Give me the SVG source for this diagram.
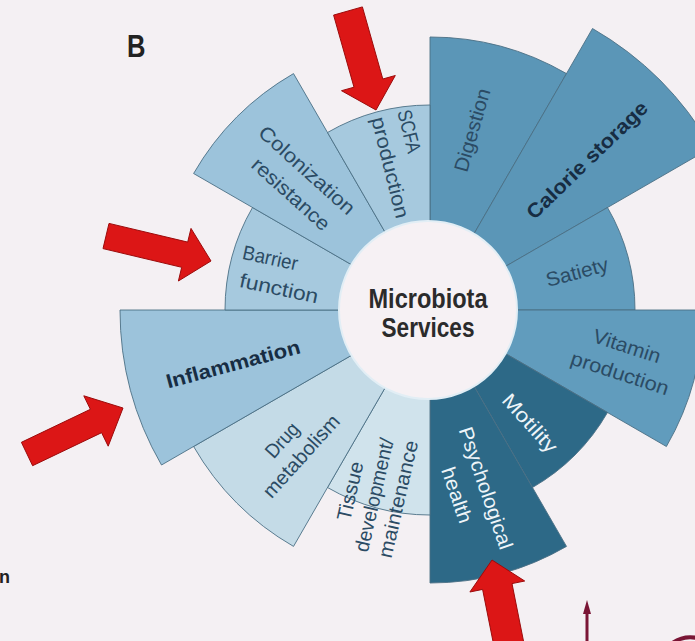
<svg xmlns="http://www.w3.org/2000/svg" width="695" height="641" viewBox="0 0 695 641">
<style>
.w{stroke:#4b6f84;stroke-width:0.9;stroke-linejoin:round}
.lb{fill:#a6c9de}.lb2{fill:#9cc3db}.lt{fill:#c4dbe7}.lt2{fill:#d0e3ec}
.md{fill:#5b96b7}.md2{fill:#619cbd}.dk{fill:#2d6987}
.t{font-family:"Liberation Sans",Arial,sans-serif;font-size:20px;fill:#2b4b64;text-anchor:middle;dominant-baseline:central}
.s{text-anchor:start}
.b{font-weight:bold;fill:#172d43}
.wt{fill:#eef5f9}
.c{font-family:"Liberation Sans",Arial,sans-serif;font-size:27px;font-weight:bold;fill:#2b2b2b;text-anchor:middle}
.arrow{fill:#dc1616;stroke:#9c0b0b;stroke-width:1;stroke-linejoin:round}
</style>
<rect width="695" height="641" fill="#f4f0f3"/>
<text x="127" y="57" transform="translate(127,57) scale(0.8,1) translate(-127,-57)" font-family="Liberation Sans,Arial,sans-serif" font-weight="bold" font-size="32" fill="#222">B</text>
<text x="10" y="583" text-anchor="end" font-family="Liberation Sans,Arial,sans-serif" font-weight="bold" font-size="18" fill="#222">n</text>

<g id="digestion"><path class="w md" d="M430,310 L430,37 A273,273 0 0 1 566.5,73.6 Z"/>
<text class="t" transform="translate(472,130) rotate(-74)" font-size="19" textLength="86" lengthAdjust="spacingAndGlyphs">Digestion</text></g>
<g id="calorie-storage"><path class="w md" d="M430,310 L592.5,28.5 A325,325 0 0 1 711.5,147.5 Z"/>
<text class="t b" transform="translate(587,160) rotate(-44)" font-size="19" textLength="160" lengthAdjust="spacingAndGlyphs">Calorie storage</text></g>
<g id="satiety"><path class="w md2" d="M430,310 L607.5,207.5 A205,205 0 0 1 635,310 Z"/>
<text class="t" transform="translate(577,272) rotate(-15)" textLength="64" lengthAdjust="spacingAndGlyphs">Satiety</text></g>
<g id="vitamin-production"><path class="w md2" d="M430,310 L703,310 A273,273 0 0 1 666.4,446.5 Z"/>
<text class="t" transform="translate(627,346) rotate(18)" textLength="70" lengthAdjust="spacingAndGlyphs">Vitamin</text>
<text class="t" transform="translate(620,373) rotate(18)" textLength="102" lengthAdjust="spacingAndGlyphs">production</text></g>
<g id="motility"><path class="w dk" d="M430,310 L607.5,412.5 A205,205 0 0 1 532.5,487.5 Z"/>
<text class="t wt" transform="translate(530,423) rotate(48)" textLength="72" lengthAdjust="spacingAndGlyphs">Motility</text></g>
<g id="psychological-health"><path class="w dk" d="M430,310 L566.5,546.4 A273,273 0 0 1 430,583 Z"/>
<text class="t wt" transform="translate(486,488) rotate(71)" textLength="128" lengthAdjust="spacingAndGlyphs">Psychological</text>
<text class="t wt" transform="translate(457,495) rotate(71)" textLength="58" lengthAdjust="spacingAndGlyphs">health</text></g>
<g id="tissue-development"><path class="w lt2" d="M430,310 L430,515 A205,205 0 0 1 327.5,487.5 Z"/>
<text class="t" transform="translate(350,491) rotate(-77)" textLength="60" lengthAdjust="spacingAndGlyphs">Tissue</text>
<text class="t" transform="translate(374,495) rotate(-77)" textLength="116" lengthAdjust="spacingAndGlyphs">development/</text>
<text class="t" transform="translate(398,499) rotate(-77)" textLength="120" lengthAdjust="spacingAndGlyphs">maintenance</text></g>
<g id="drug-metabolism"><path class="w lt" d="M430,310 L293.5,546.4 A273,273 0 0 1 193.6,446.5 Z"/>
<text class="t" transform="translate(282,440) rotate(-48)" textLength="40" lengthAdjust="spacingAndGlyphs">Drug</text>
<text class="t" transform="translate(301,456) rotate(-48)" textLength="104" lengthAdjust="spacingAndGlyphs">metabolism</text></g>
<g id="inflammation"><path class="w lb2" d="M430,310 L161.5,465 A310,310 0 0 1 120,310 Z"/>
<text class="t b" transform="translate(233,364) rotate(-15)" font-size="21" textLength="138" lengthAdjust="spacingAndGlyphs">Inflammation</text></g>
<g id="barrier-function"><path class="w lb" d="M430,310 L225,310 A205,205 0 0 1 252.5,207.5 Z"/>
<text class="t s" transform="translate(243,252) rotate(12)" textLength="56" lengthAdjust="spacingAndGlyphs">Barrier</text>
<text class="t s" transform="translate(240,280) rotate(12)" textLength="80" lengthAdjust="spacingAndGlyphs">function</text></g>
<g id="colonization-resistance"><path class="w lb2" d="M430,310 L193.6,173.5 A273,273 0 0 1 293.5,73.6 Z"/>
<text class="t" transform="translate(307,170) rotate(42)" textLength="122" lengthAdjust="spacingAndGlyphs">Colonization</text>
<text class="t" transform="translate(291,194) rotate(42)" textLength="98" lengthAdjust="spacingAndGlyphs">resistance</text></g>
<g id="scfa-production"><path class="w lb" d="M430,310 L327.5,132.5 A205,205 0 0 1 430,105 Z"/>
<text class="t s" transform="translate(404,110) rotate(76)" textLength="44" lengthAdjust="spacingAndGlyphs">SCFA</text>
<text class="t s" transform="translate(378,117) rotate(76)" textLength="104" lengthAdjust="spacingAndGlyphs">production</text></g>

<g id="center"><circle cx="428" cy="310" r="89" fill="#f6f1f4" stroke="#e2eef5" stroke-width="2"/>
<text class="c" x="428" y="308" textLength="119" lengthAdjust="spacingAndGlyphs">Microbiota</text>
<text class="c" x="428" y="337" textLength="93" lengthAdjust="spacingAndGlyphs">Services</text></g>

<g id="connectors">
<polygon class="arrow" points="362.4,6.9 382.8,79 395.3,75.5 376,110 341.5,90.7 354,87.2 333.6,15.1"/>
<polygon class="arrow" points="103,248.6 181.7,267.3 178.4,281 211,261 191,228.4 187.7,242.1 109,223.4"/>
<polygon class="arrow" points="32.6,465.7 101.6,432.7 108.2,446.2 123,408 83.8,395.8 90.4,409.3 21.4,442.3"/>
<polygon class="arrow" points="524.7,647.1 512,583.6 524.7,581 492,560 469.9,592 482.6,589.4 495.3,652.9"/>
<path d="M587,641 L587,612" stroke="#7a1535" stroke-width="3" fill="none"/>
<polygon points="583,614 587,600 591,614" fill="#7a1535"/>
<path d="M671,644 Q683,635 697,638" stroke="#7a1535" stroke-width="4" fill="none"/>
</g>
</svg>
